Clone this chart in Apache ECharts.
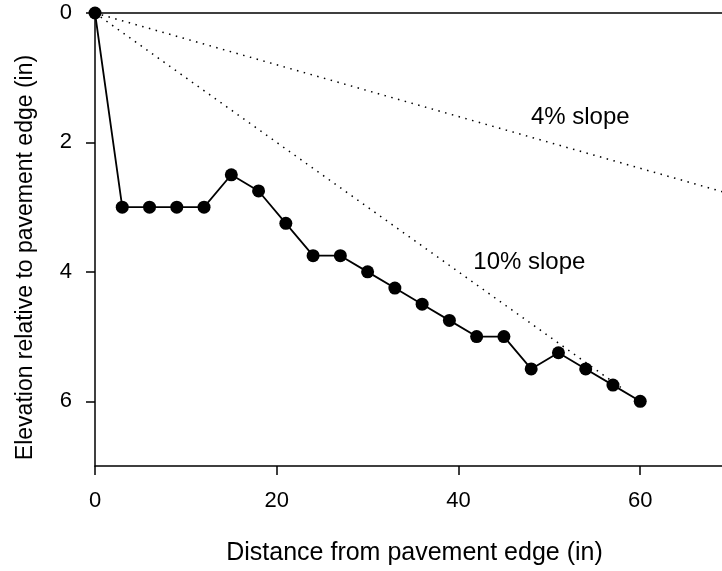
<!DOCTYPE html>
<html>
<head>
<meta charset="utf-8">
<script src="https://cdn.jsdelivr.net/npm/echarts@6/dist/echarts.min.js"></script>
<style>
  html, body { margin: 0; padding: 0; background: #fff; }
  #chart { width: 722px; height: 571px; }
</style>
</head>
<body>
<div id="chart"></div>
<script>
  // measured profile
  const distance = [0, 3, 6, 9, 12, 15, 18, 21, 24, 27, 30, 33, 36, 39, 42, 45, 48, 51, 54, 57, 60];
  const elevation = [0, 3, 3, 3, 3, 2.5, 2.75, 3.25, 3.75, 3.75, 4, 4.25, 4.5, 4.75, 5, 5, 5.5, 5.25, 5.5, 5.75, 6];
  // reference slope lines (end points)
  const slope4 = [[0, 0], [70, 2.8]];
  const slope10 = [[0, 0], [58, 5.8]];
  const slopeLabels = ['4% slope', '10% slope'];
  const slopeLabelPos = [[53.4, 1.61], [47.8, 3.86]];

  const font = 'Liberation Sans, Arial, sans-serif';
  const mychart = echarts.init(document.getElementById('chart'));
  const option = {
    animation: false,
    textStyle: { fontFamily: font },
    grid: { left: 95, right: 0, top: 13, bottom: 103 },
    xAxis: [{
      type: 'value',
      min: 0,
      max: 69,
      interval: 20,
      position: 'bottom',
      name: 'Distance from pavement edge (in)',
      nameLocation: 'middle',
      nameGap: 75,
      nameTextStyle: { fontSize: 25, color: '#000', fontFamily: font, padding: [0, 0, 0, 12] },
      axisLine: { onZero: false, lineStyle: { color: '#000', width: 1.5 } },
      axisTick: { length: 9, lineStyle: { color: '#000', width: 1.5 } },
      axisLabel: { fontSize: 22, color: '#000', margin: 24, showMaxLabel: false, fontFamily: font },
      splitLine: { show: false }
    }, {
      type: 'value',
      min: 0,
      max: 69,
      position: 'top',
      axisLine: { onZero: false, lineStyle: { color: '#000', width: 1.5 } },
      axisTick: { show: false },
      axisLabel: { show: false },
      splitLine: { show: false }
    }],
    yAxis: {
      type: 'value',
      inverse: true,
      min: 0,
      max: 7,
      interval: 2,
      name: 'Elevation relative to pavement edge (in)',
      nameLocation: 'middle',
      nameGap: 58,
      nameTextStyle: { fontSize: 23, color: '#000', fontFamily: font, padding: [0, 36, 0, 0] },
      axisLine: { show: true, onZero: false, lineStyle: { color: '#000', width: 1.5 } },
      axisTick: { show: true, length: 9, lineStyle: { color: '#000', width: 1.5 } },
      axisLabel: { fontSize: 22, color: '#000', margin: 23, showMaxLabel: false, fontFamily: font },
      splitLine: { show: false }
    },
    series: [{
      type: 'line',
      data: slope4,
      symbol: 'none',
      lineStyle: { color: '#000', width: 1.5, type: [1.5, 5.5] },
      z: 1
    }, {
      type: 'line',
      data: slope10,
      symbol: 'none',
      lineStyle: { color: '#000', width: 1.5, type: [1.5, 5.5] },
      z: 1
    }, {
      type: 'line',
      data: distance.map((d, i) => [d, elevation[i]]),
      symbol: 'circle',
      symbolSize: 13,
      itemStyle: { color: '#000' },
      lineStyle: { color: '#000', width: 1.8 },
      clip: false,
      z: 3
    }, {
      type: 'scatter',
      data: slopeLabelPos.map((p, i) => ({ value: p, name: slopeLabels[i] })),
      symbolSize: 1,
      itemStyle: { color: 'rgba(0,0,0,0)' },
      label: {
        show: true,
        position: 'inside',
        formatter: p => p.name,
        fontSize: 24,
        color: '#000',
        opacity: 1,
        textBorderWidth: 0,
        fontFamily: font
      },
      emphasis: { disabled: true },
      z: 4
    }]
  };
  mychart.setOption(option);
</script>
</body>
</html>
